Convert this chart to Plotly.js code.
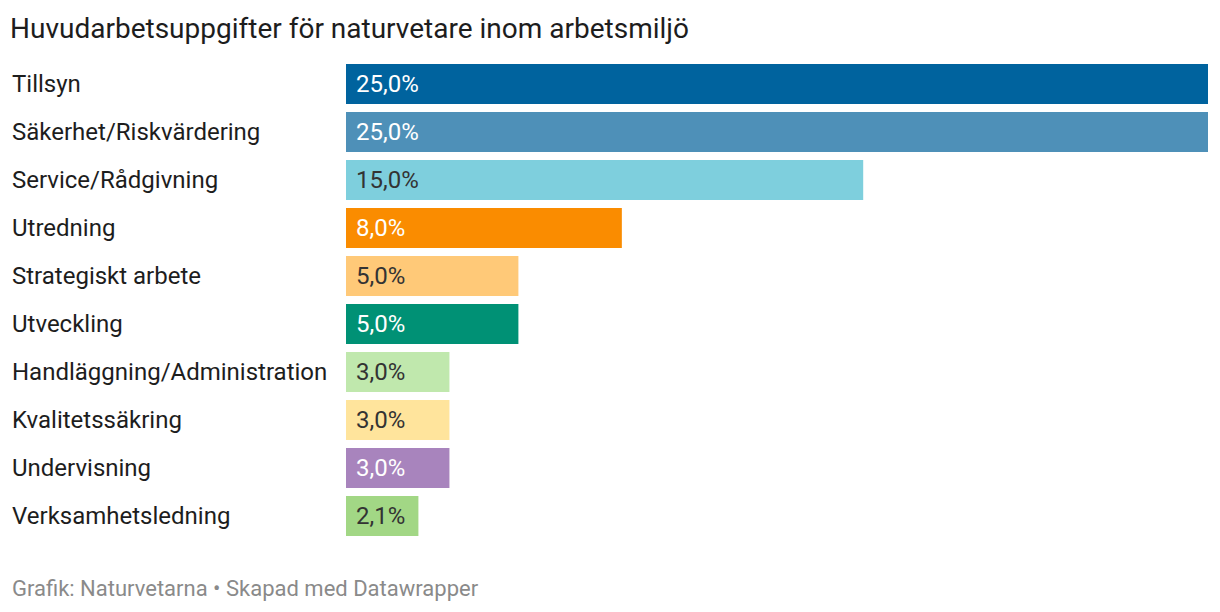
<!DOCTYPE html>
<html>
<head>
<meta charset="utf-8">
<script src="https://cdn.plot.ly/plotly-3.0.1.min.js"></script>
<style>html,body{margin:0;padding:0;background:#fff;}#chart{width:1220px;height:612px;}</style>
</head>
<body>
<div id="chart"></div>
<script>
const categories = ["Tillsyn","Säkerhet/Riskvärdering","Service/Rådgivning","Utredning","Strategiskt arbete","Utveckling","Handläggning/Administration","Kvalitetssäkring","Undervisning","Verksamhetsledning"];
const values = [25.0,25.0,15.0,8.0,5.0,5.0,3.0,3.0,3.0,2.1];
const barColors = ["#00639e","#4e90b8","#7ecfdd","#fa8c00","#ffc978","#009175","#c0e8ad","#ffe49c","#a884bd","#a2d785"];
const labelColors = ["#ffffff","#ffffff","#333333","#ffffff","#333333","#ffffff","#333333","#333333","#ffffff","#333333"];

const fmt = v => v.toFixed(1).replace('.', ',') + '%';

const trace = {
  type: 'bar',
  orientation: 'h',
  x: values,
  y: categories,
  marker: {color: barColors},
  hoverinfo: 'none'
};

const annotations = [];
categories.forEach((c, i) => {
  annotations.push({
    xref: 'paper', yref: 'y', x: (10 - 346) / 862, y: c,
    xanchor: 'left', yanchor: 'middle', showarrow: false,
    text: c, font: {family: 'Roboto', size: 24, color: '#1d1d1d'}
  });
  annotations.push({
    xref: 'x', yref: 'y', x: 0, y: c, xshift: 8,
    xanchor: 'left', yanchor: 'middle', showarrow: false,
    text: fmt(values[i]), font: {family: 'Roboto', size: 24, color: labelColors[i]}
  });
});
annotations.push({
  xref: 'paper', yref: 'paper', x: (10 - 346) / 862, y: -(588 - 540) / 480, 
  xanchor: 'left', yanchor: 'middle', showarrow: false,
  text: 'Grafik: Naturvetarna • Skapad med Datawrapper',
  font: {family: 'Roboto', size: 22, color: '#8a8a8a'}
});

const layout = {
  width: 1220, height: 612,
  margin: {l: 346, r: 12, t: 60, b: 72, pad: 0},
  paper_bgcolor: '#fff', plot_bgcolor: '#fff',
  title: {text: 'Huvudarbetsuppgifter för naturvetare inom arbetsmiljö', x: 10/1220, xanchor: 'left', y: 1 - 28/612, yanchor: 'middle',
          font: {family: 'Roboto', size: 28, color: '#1d1d1d'}},
  xaxis: {range: [0, 25], showgrid: false, zeroline: false, showticklabels: false, fixedrange: true},
  yaxis: {autorange: 'reversed', showticklabels: false, showgrid: false, zeroline: false, fixedrange: true},
  bargap: 8/48,
  showlegend: false,
  annotations: annotations
};

Plotly.newPlot('chart', [trace], layout, {displayModeBar: false, staticPlot: true});
</script>
</body>
</html>
